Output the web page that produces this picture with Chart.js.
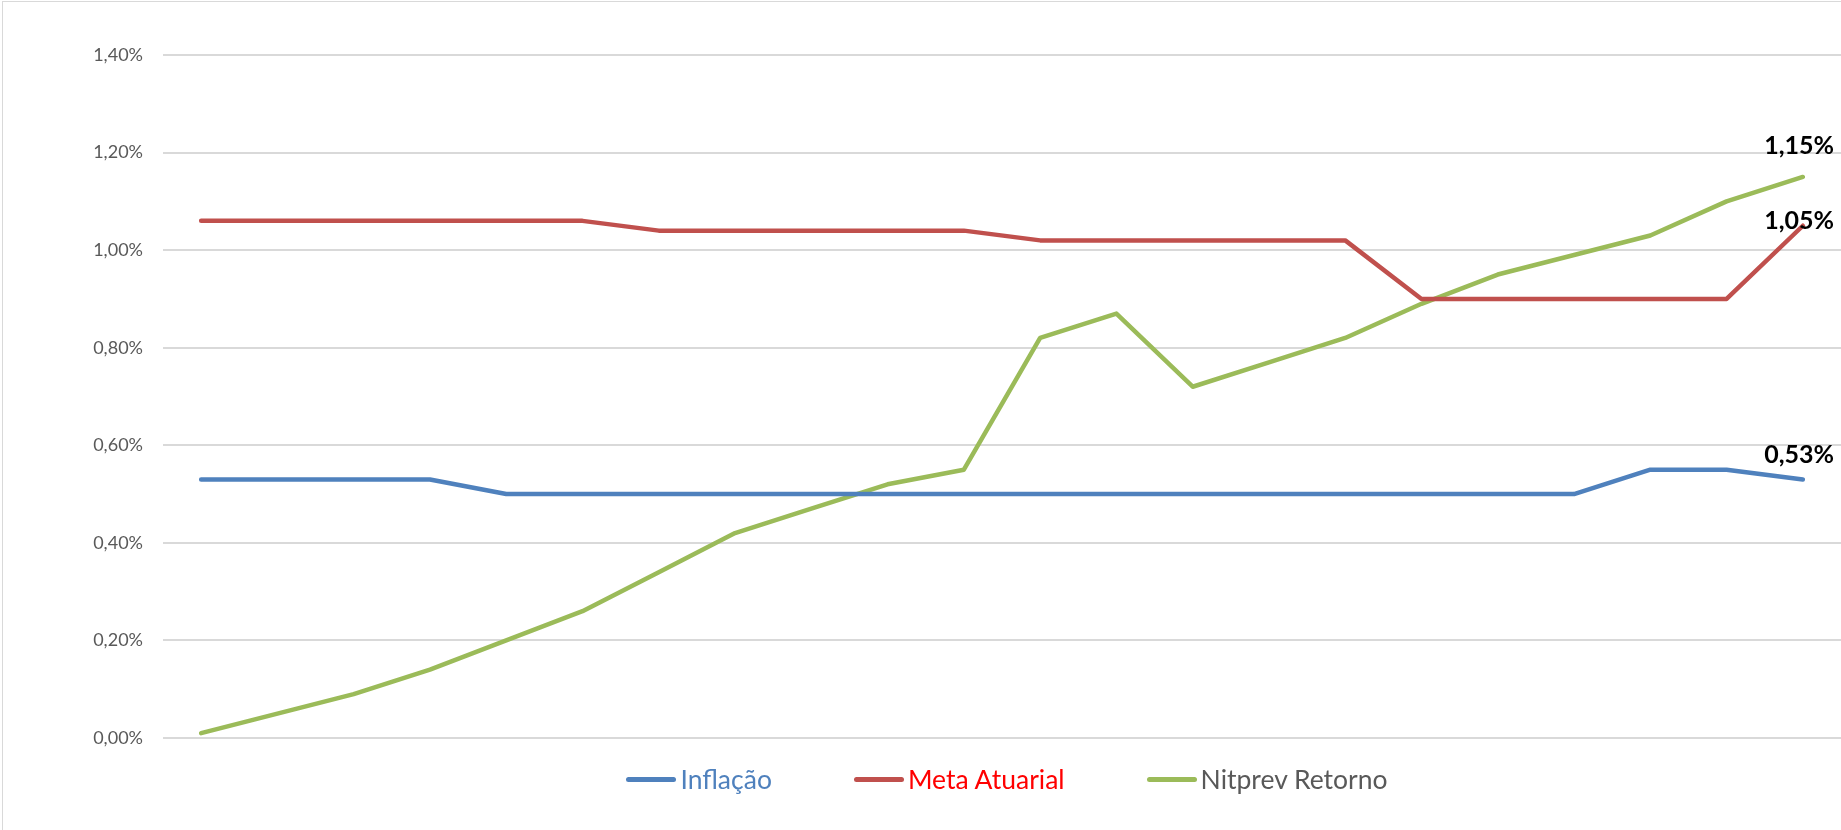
<!DOCTYPE html>
<html lang="pt-BR">
<head>
<meta charset="utf-8">
<title>Inflação x Meta Atuarial x Nitprev</title>
<script src="https://cdn.jsdelivr.net/npm/chart.js@4.4.1/dist/chart.umd.min.js"></script>
<style>
  html, body { margin: 0; padding: 0; background: #fff; overflow: hidden; }
  #wrap { position: relative; width: 1841px; height: 830px; }
  #moldura { position: absolute; left: 2px; top: 1px; width: 1900px; height: 900px; border: 1px solid #d9d9d9; pointer-events: none; }
  #legenda { position: absolute; left: 168px; width: 1678px; top: 761px; height: 36px;
             display: flex; justify-content: center; align-items: center; gap: 82px;
             font-family: Lato, sans-serif; font-size: 26.5px; }
  .item { display: flex; align-items: center; }
  .traco { width: 50px; height: 5px; border-radius: 3px; margin-right: 4px; }
</style>
</head>
<body>
<div id="wrap">
  <canvas id="grafico"></canvas>
  <div id="moldura"></div>
  <div id="legenda"></div>
</div>
<script>
// Dados (valores em %)
const meses = ['1', '2', '3', '4', '5', '6', '7', '8', '9', '10', '11',
               '12', '13', '14', '15', '16', '17', '18', '19', '20', '21', '22'];
const inflacao = [0.53, 0.53, 0.53, 0.53, 0.50, 0.50, 0.50, 0.50, 0.50, 0.50, 0.50,
                  0.50, 0.50, 0.50, 0.50, 0.50, 0.50, 0.50, 0.50, 0.55, 0.55, 0.53];
const metaAtuarial = [1.06, 1.06, 1.06, 1.06, 1.06, 1.06, 1.04, 1.04, 1.04, 1.04, 1.04,
                      1.02, 1.02, 1.02, 1.02, 1.02, 0.90, 0.90, 0.90, 0.90, 0.90, 1.05];
const nitprevRetorno = [0.01, 0.05, 0.09, 0.14, 0.20, 0.26, 0.34, 0.42, 0.47, 0.52, 0.55,
                        0.82, 0.87, 0.72, 0.77, 0.82, 0.89, 0.95, 0.99, 1.03, 1.10, 1.15];
const ticksY = [0, 0.2, 0.4, 0.6, 0.8, 1.0, 1.2, 1.4];

const series = [
    { nome: 'Inflação', dados: inflacao, cor: '#4F81BD', corTexto: '#4F81BD', deslocY: -24 },
    { nome: 'Meta Atuarial', dados: metaAtuarial, cor: '#C0504D', corTexto: '#FF0000', deslocY: -5 },
    { nome: 'Nitprev Retorno', dados: nitprevRetorno, cor: '#9BBB59', corTexto: '#595959', deslocY: -31 }
];

function formatarPct(v) {
    return v.toFixed(2).replace('.', ',') + '%';
}

// Rotulo so no ultimo ponto de cada serie
const rotuloFinal = {
    id: 'rotuloFinal',
    afterDatasetsDraw(chart) {
        const ctx = chart.ctx;
        ctx.save();
        ctx.font = 'bold 25px Lato, sans-serif';
        ctx.fillStyle = '#000';
        ctx.textAlign = 'right';
        ctx.textBaseline = 'middle';
        chart.data.datasets.forEach((ds, i) => {
            const meta = chart.getDatasetMeta(i);
            const ultimo = meta.data[meta.data.length - 1];
            const valor = ds.data[ds.data.length - 1];
            ctx.fillText(formatarPct(valor), chart.width - 7, ultimo.y + series[i].deslocY);
        });
        ctx.restore();
    }
};

const ctx = document.getElementById('grafico').getContext('2d');
new Chart(ctx, {
    type: 'line',
    data: {
        labels: meses,
        datasets: series.map(s => ({
            label: s.nome,
            data: s.dados,
            borderColor: s.cor,
            backgroundColor: s.cor,
            borderWidth: 4.5,
            borderCapStyle: 'round',
            borderJoinStyle: 'round',
            pointRadius: 0,
            tension: 0
        }))
    },
    options: {
        responsive: true,
        maintainAspectRatio: false,
        animation: false,
        layout: { padding: { top: 55, right: 0, bottom: 92, left: 0 } },
        plugins: {
            legend: { display: false },
            tooltip: { enabled: false }
        },
        scales: {
            x: {
                display: false,
                offset: true
            },
            y: {
                min: 0,
                max: 1.4,
                afterFit: (scale) => { scale.width = 163; },
                afterBuildTicks: (scale) => { scale.ticks = ticksY.map(v => ({ value: v })); },
                border: { display: false },
                grid: { color: '#d9d9d9', lineWidth: 2, drawTicks: false },
                ticks: {
                    padding: 20,
                    color: '#595959',
                    font: { family: 'Lato, sans-serif', size: 18 },
                    callback: (v) => formatarPct(v)
                }
            }
        }
    },
    plugins: [rotuloFinal]
});

// Legenda em HTML (mesmo espaçamento do original)
const legenda = document.getElementById('legenda');
series.forEach(s => {
    const item = document.createElement('div');
    item.className = 'item';
    const traco = document.createElement('span');
    traco.className = 'traco';
    traco.style.background = s.cor;
    const texto = document.createElement('span');
    texto.textContent = s.nome;
    texto.style.color = s.corTexto;
    item.appendChild(traco);
    item.appendChild(texto);
    legenda.appendChild(item);
});
</script>
</body>
</html>
